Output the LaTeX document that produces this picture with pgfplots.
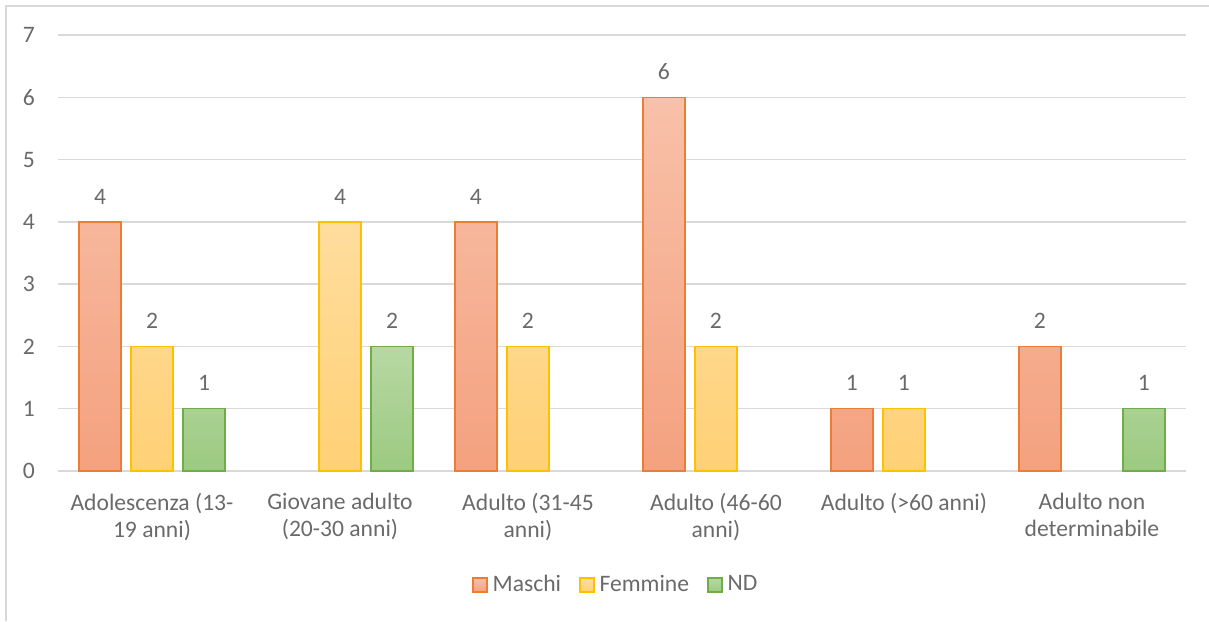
\documentclass[border=0pt]{standalone}
\usepackage{fontspec}
\setmainfont{Carlito}
\usepackage{pgfplots}
\pgfplotsset{compat=1.18}

\definecolor{gridgray}{HTML}{D9D9D9}
\definecolor{labelgray}{HTML}{6A6A6A}
\definecolor{mBorder}{HTML}{ED7D31}
\definecolor{mTop}{HTML}{F8C1A9}
\definecolor{mBot}{HTML}{F4A17F}
\definecolor{fBorder}{HTML}{FFC000}
\definecolor{fTop}{HTML}{FFDD9E}
\definecolor{fBot}{HTML}{FFD176}
\definecolor{nBorder}{HTML}{70AD47}
\definecolor{nTop}{HTML}{B7D8A3}
\definecolor{nBot}{HTML}{9CCA81}

\newcommand{\chartfont}{\fontsize{23.6}{27}\selectfont}

\pgfplotsset{
  sqlegend/.style={legend image code/.code={%
      \draw[##1] (0pt,-7pt) rectangle (14pt,7pt);}},
}

\begin{document}
\begin{tikzpicture}
\chartfont
\useasboundingbox (0,0) rectangle (1209pt,621pt);
% chart frame (left and top edges)
\draw[gridgray, line width=1.5pt] (6pt,0pt) -- (6pt,615pt) -- (1209pt,615pt);

\begin{axis}[
  at={(58pt,150pt)}, anchor=south west,
  scale only axis,
  width=1128pt, height=436pt,
  xmin=-0.5, xmax=5.5,
  ymin=0, ymax=7,
  ytick={0,1,...,7},
  xtick={0,1,...,5},
  xticklabels={{Adolescenza (13-\\19 anni)},
               {Giovane adulto\\(20-30 anni)},
               {Adulto (31-45\\anni)},
               {Adulto (46-60\\anni)},
               {Adulto (>60 anni)},
               {Adulto non\\determinabile}},
  /pgf/number format/assume math mode=true,
  major tick length=0pt,
  axis line style={draw=none},
  ymajorgrids,
  grid style={gridgray, line width=1.5pt},
  tick label style={text=labelgray, font=\chartfont},
  yticklabel style={anchor=east, inner sep=0pt, xshift=-23pt},
  xticklabel style={anchor=north, align=center, inner sep=0pt, yshift=-22pt},
  ybar=10pt,
  bar width=42pt,
  nodes near coords,
  every node near coord/.append style={text=labelgray, anchor=south,
      inner sep=0pt, yshift=17pt, font=\chartfont},
  legend columns=-1,
  legend style={draw=none, fill=none, at={(0.4958,-0.2615)}, anchor=center,
      inner sep=0pt, nodes={inner sep=0pt, inner xsep=5pt, text=labelgray},
      font=\chartfont,
      /tikz/every even column/.append style={column sep=13pt}},
  sqlegend,
]
\addplot[draw=mBorder, line width=1.5pt, top color=mTop, bottom color=mBot]
  coordinates {(0,4) (2,4) (3,6) (4,1) (5,2)};
\addplot[draw=fBorder, line width=1.5pt, top color=fTop, bottom color=fBot]
  coordinates {(0,2) (1,4) (2,2) (3,2) (4,1)};
\addplot[draw=nBorder, line width=1.5pt, top color=nTop, bottom color=nBot]
  coordinates {(0,1) (1,2) (5,1)};
\legend{Maschi, Femmine, ND}
\end{axis}
\end{tikzpicture}
\end{document}
